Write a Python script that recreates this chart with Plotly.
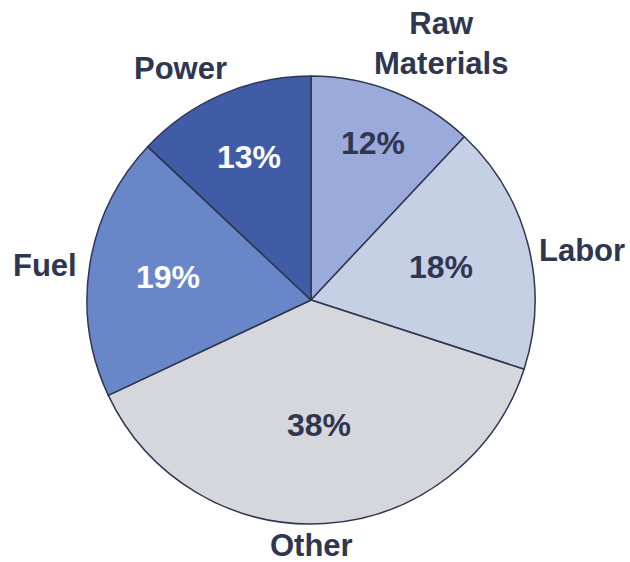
import math
import plotly.graph_objects as go

# Cost breakdown, clockwise from 12 o'clock
categories = ["Raw Materials", "Labor", "Other", "Fuel", "Power"]
shares = [12, 18, 38, 19, 13]
slice_colors = ["#9BA9DB", "#C6D0E5", "#D6D7DC", "#6886C8", "#405CA6"]
pct_colors = ["#2E3650", "#2E3650", "#2E3650", "#FFFFFF", "#FFFFFF"]
# radial position of each percentage, as a fraction of the radius
pct_radius = [0.754, 0.60, 0.56, 0.645, 0.695]

FONT = "Liberation Sans, Arial, sans-serif"
INK = "#2E3650"
W, H = 630, 562

# Pie geometry in pixels
cx, cy, r = 311, 300, 224

fig = go.Figure(
    go.Pie(
        labels=categories,
        values=shares,
        sort=False,
        direction="clockwise",
        rotation=0,
        marker=dict(colors=slice_colors, line=dict(color=INK, width=1.5)),
        textinfo="none",
        showlegend=False,
        hoverinfo="label+percent",
        domain=dict(
            x=[(cx - r) / W, (cx + r) / W],
            y=[1 - (cy + r) / H, 1 - (cy - r) / H],
        ),
    )
)

# Percentages, placed along each slice's bisector
total = sum(shares)
start = 0.0
for val, col, frac in zip(shares, pct_colors, pct_radius):
    mid = (start + val / 2) / total * 2 * math.pi
    start += val
    px = cx + frac * r * math.sin(mid)
    py = cy - frac * r * math.cos(mid)
    fig.add_annotation(
        x=px / W, y=1 - py / H, xref="paper", yref="paper",
        text=f"{val / total * 100:.0f}%", showarrow=False,
        xanchor="center", yanchor="middle",
        font=dict(family=FONT, size=32, color=col, weight="bold"),
    )

# Category names placed around the rim
label_pos = {
    "Raw<br>Materials": (441, 44),
    "Labor": (582, 250),
    "Other": (311, 545),
    "Fuel": (45, 265),
    "Power": (180, 68),
}
for text, (px, py) in label_pos.items():
    fig.add_annotation(
        x=px / W, y=1 - py / H, xref="paper", yref="paper",
        text=text, showarrow=False, xanchor="center", yanchor="middle",
        font=dict(family=FONT, size=31, color=INK, weight="bold"),
    )

fig.update_layout(
    width=W, height=H,
    margin=dict(l=0, r=0, t=0, b=0),
    paper_bgcolor="white",
    plot_bgcolor="white",
)

fig.write_html("out.html")
